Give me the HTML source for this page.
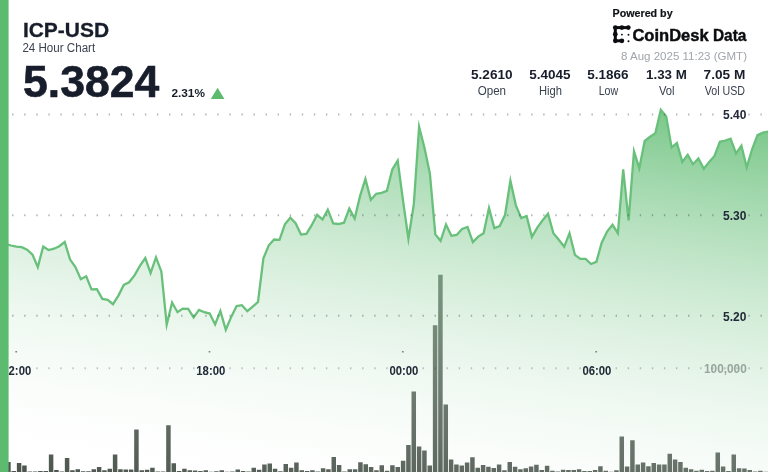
<!DOCTYPE html>
<html><head><meta charset="utf-8">
<style>
html,body{margin:0;padding:0;background:#fff;}
body{width:768px;height:472px;overflow:hidden;font-family:"Liberation Sans",sans-serif;}
svg{display:block;will-change:transform;}
text{font-family:"Liberation Sans",sans-serif;}
</style></head><body>
<svg width="768" height="472" viewBox="0 0 768 472">
<defs>
<linearGradient id="ag" gradientUnits="userSpaceOnUse" x1="0.0" y1="472.0" x2="65.9" y2="8.2">
<stop offset="0" stop-color="#ffffff" stop-opacity="0"/><stop offset="1" stop-color="#5dbb70" stop-opacity="0.88"/>
</linearGradient>
</defs>
<rect width="768" height="472" fill="#fff"/>
<!-- volume bars -->
<path d="M0.85,472v-3.0h4.5v3.0zM6.18,472v-9.9h4.5v9.9zM11.52,472v-1.0h4.5v1.0zM16.85,472v-9.1h4.5v9.1zM22.18,472v-6.6h4.5v6.6zM27.52,472v-0.5h4.5v0.5zM32.85,472v-0.5h4.5v0.5zM38.18,472v-1.0h4.5v1.0zM43.52,472v-1.0h4.5v1.0zM48.85,472v-17.4h4.5v17.4zM54.18,472v-2.0h4.5v2.0zM59.52,472v-0.4h4.5v0.4zM64.85,472v-14.1h4.5v14.1zM70.18,472v-1.7h4.5v1.7zM75.52,472v-2.8h4.5v2.8zM80.85,472v-0.7h4.5v0.7zM86.18,472v-0.7h4.5v0.7zM91.52,472v-2.8h4.5v2.8zM96.85,472v-4.9h4.5v4.9zM102.18,472v-1.7h4.5v1.7zM107.52,472v-3.3h4.5v3.3zM112.85,472v-17.4h4.5v17.4zM118.18,472v-2.8h4.5v2.8zM123.52,472v-2.5h4.5v2.5zM128.85,472v-2.5h4.5v2.5zM134.18,472v-42.5h4.5v42.5zM139.52,472v-1.7h4.5v1.7zM144.85,472v-2.3h4.5v2.3zM150.18,472v-4.2h4.5v4.2zM155.52,472v-0.6h4.5v0.6zM160.85,472v-0.6h4.5v0.6zM166.18,472v-46.7h4.5v46.7zM171.52,472v-8.7h4.5v8.7zM176.85,472v-1.0h4.5v1.0zM182.18,472v-3.3h4.5v3.3zM187.52,472v-1.7h4.5v1.7zM192.85,472v-1.5h4.5v1.5zM198.18,472v-1.0h4.5v1.0zM203.52,472v-1.7h4.5v1.7zM208.85,472v-0.3h4.5v0.3zM214.18,472v-0.8h4.5v0.8zM219.52,472v-1.8h4.5v1.8zM224.85,472v-0.3h4.5v0.3zM230.18,472v-0.5h4.5v0.5zM235.52,472v-2.5h4.5v2.5zM240.85,472v-1.0h4.5v1.0zM246.18,472v-0.6h4.5v0.6zM251.52,472v-4.2h4.5v4.2zM256.85,472v-2.3h4.5v2.3zM262.18,472v-7.5h4.5v7.5zM267.52,472v-8.5h4.5v8.5zM272.85,472v-3.2h4.5v3.2zM278.18,472v-0.8h4.5v0.8zM283.51,472v-7.9h4.5v7.9zM288.85,472v-4.2h4.5v4.2zM294.18,472v-9.5h4.5v9.5zM299.51,472v-1.7h4.5v1.7zM304.85,472v-1.0h4.5v1.0zM310.18,472v-1.7h4.5v1.7zM315.51,472v-0.5h4.5v0.5zM320.85,472v-3.8h4.5v3.8zM326.18,472v-2.8h4.5v2.8zM331.51,472v-15.1h4.5v15.1zM336.85,472v-7.0h4.5v7.0zM342.18,472v-0.6h4.5v0.6zM347.51,472v-2.7h4.5v2.7zM352.85,472v-2.7h4.5v2.7zM358.18,472v-9.7h4.5v9.7zM363.51,472v-7.7h4.5v7.7zM368.85,472v-5.0h4.5v5.0zM374.18,472v-1.7h4.5v1.7zM379.51,472v-6.7h4.5v6.7zM384.85,472v-1.2h4.5v1.2zM390.18,472v-6.7h4.5v6.7zM395.51,472v-5.0h4.5v5.0zM400.85,472v-11.2h4.5v11.2zM406.18,472v-27.1h4.5v27.1zM411.51,472v-80.6h4.5v80.6zM416.85,472v-25.4h4.5v25.4zM422.18,472v-21.6h4.5v21.6zM427.51,472v-6.5h4.5v6.5zM432.85,472v-146.8h4.5v146.8zM438.18,472v-197.3h4.5v197.3zM443.51,472v-67.6h4.5v67.6zM448.85,472v-12.5h4.5v12.5zM454.18,472v-7.4h4.5v7.4zM459.51,472v-6.5h4.5v6.5zM464.85,472v-9.5h4.5v9.5zM470.18,472v-14.7h4.5v14.7zM475.51,472v-4.2h4.5v4.2zM480.85,472v-6.9h4.5v6.9zM486.18,472v-5.2h4.5v5.2zM491.51,472v-4.0h4.5v4.0zM496.85,472v-7.4h4.5v7.4zM502.18,472v-1.8h4.5v1.8zM507.51,472v-10.0h4.5v10.0zM512.85,472v-5.2h4.5v5.2zM518.18,472v-2.8h4.5v2.8zM523.51,472v-3.8h4.5v3.8zM528.85,472v-5.4h4.5v5.4zM534.18,472v-7.2h4.5v7.2zM539.51,472v-2.0h4.5v2.0zM544.85,472v-6.2h4.5v6.2zM550.18,472v-1.2h4.5v1.2zM555.51,472v-0.5h4.5v0.5zM560.85,472v-2.3h4.5v2.3zM566.18,472v-2.0h4.5v2.0zM571.51,472v-2.0h4.5v2.0zM576.85,472v-2.8h4.5v2.8zM582.18,472v-1.0h4.5v1.0zM587.51,472v-1.0h4.5v1.0zM592.85,472v-2.0h4.5v2.0zM598.18,472v-5.7h4.5v5.7zM603.51,472v-1.2h4.5v1.2zM608.85,472v-0.3h4.5v0.3zM614.18,472v-1.7h4.5v1.7zM619.51,472v-35.6h4.5v35.6zM624.85,472v-5.4h4.5v5.4zM630.18,472v-31.8h4.5v31.8zM635.51,472v-7.4h4.5v7.4zM640.85,472v-9.5h4.5v9.5zM646.18,472v-5.7h4.5v5.7zM651.51,472v-9.0h4.5v9.0zM656.85,472v-7.4h4.5v7.4zM662.18,472v-7.4h4.5v7.4zM667.51,472v-18.2h4.5v18.2zM672.85,472v-12.5h4.5v12.5zM678.18,472v-10.0h4.5v10.0zM683.51,472v-4.3h4.5v4.3zM688.85,472v-2.8h4.5v2.8zM694.18,472v-1.2h4.5v1.2zM699.51,472v-2.2h4.5v2.2zM704.85,472v-1.0h4.5v1.0zM710.18,472v-1.3h4.5v1.3zM715.51,472v-19.6h4.5v19.6zM720.85,472v-5.4h4.5v5.4zM726.18,472v-1.0h4.5v1.0zM731.51,472v-17.4h4.5v17.4zM736.85,472v-3.8h4.5v3.8zM742.18,472v-3.5h4.5v3.5zM747.51,472v-2.0h4.5v2.0zM752.85,472v-0.5h4.5v0.5zM758.18,472v-1.2h4.5v1.2zM763.51,472v-0.3h4.5v0.3z" fill="#4b544d"/>
<!-- area -->
<path d="M5.6,244.0 L11.0,245.5 L16.4,246.7 L21.7,247.1 L27.1,249.6 L32.5,254.6 L37.8,267.2 L43.2,246.5 L48.6,250.0 L54.0,248.7 L59.3,246.2 L64.7,242.0 L70.1,259.6 L75.4,267.1 L80.8,279.2 L86.2,276.3 L91.5,289.4 L96.9,289.1 L102.3,298.9 L107.7,299.8 L113.0,304.2 L118.4,295.6 L123.8,284.9 L129.1,282.3 L134.5,275.4 L139.9,265.9 L145.3,258.1 L150.6,273.1 L156.0,257.4 L161.4,271.7 L166.7,324.6 L172.1,302.5 L177.5,312.2 L182.8,308.6 L188.2,308.9 L193.6,317.4 L199.0,309.9 L204.3,312.2 L209.7,313.6 L215.1,324.5 L220.4,311.1 L225.8,329.8 L231.2,316.9 L236.6,306.0 L241.9,305.2 L247.3,311.2 L252.7,306.6 L258.0,301.9 L263.4,258.4 L268.8,245.3 L274.1,239.5 L279.5,239.9 L284.9,224.3 L290.3,217.7 L295.6,223.2 L301.0,234.6 L306.4,233.9 L311.7,225.2 L317.1,214.9 L322.5,219.5 L327.8,209.7 L333.2,223.5 L338.6,224.0 L344.0,222.7 L349.3,208.6 L354.7,218.6 L360.1,195.9 L365.4,179.0 L370.8,199.9 L376.2,193.8 L381.6,192.9 L386.9,190.9 L392.3,169.4 L397.7,160.6 L403.0,200.5 L408.4,238.7 L413.8,204.5 L419.1,126.7 L424.5,148.0 L429.9,173.6 L435.3,234.4 L440.6,240.8 L446.0,224.5 L451.4,235.8 L456.7,234.9 L462.1,228.9 L467.5,227.0 L472.9,242.1 L478.2,236.6 L483.6,233.2 L489.0,207.9 L494.3,228.1 L499.7,226.0 L505.1,214.8 L510.4,180.7 L515.8,205.1 L521.2,218.1 L526.6,216.0 L531.9,236.9 L537.3,227.7 L542.7,220.2 L548.0,213.7 L553.4,233.3 L558.8,239.8 L564.2,246.8 L569.5,233.2 L574.9,254.9 L580.3,258.9 L585.6,258.9 L591.0,264.0 L596.4,261.9 L601.7,242.7 L607.1,231.5 L612.5,224.8 L617.9,233.2 L623.2,169.4 L628.6,220.5 L634.0,151.3 L639.3,168.3 L644.7,141.0 L650.1,136.8 L655.4,133.1 L660.8,109.8 L666.2,116.4 L671.6,147.4 L676.9,143.1 L682.3,161.9 L687.7,154.8 L693.0,164.2 L698.4,158.5 L703.8,168.8 L709.2,161.9 L714.5,156.0 L719.9,141.8 L725.3,140.5 L730.6,138.7 L736.0,153.5 L741.4,145.8 L746.7,167.3 L752.1,149.4 L757.5,135.1 L762.9,132.6 L768.5,131.5 L768.5,472 L5.6,472 Z" fill="url(#ag)"/>
<path d="M5.6,244.0 L11.0,245.5 L16.4,246.7 L21.7,247.1 L27.1,249.6 L32.5,254.6 L37.8,267.2 L43.2,246.5 L48.6,250.0 L54.0,248.7 L59.3,246.2 L64.7,242.0 L70.1,259.6 L75.4,267.1 L80.8,279.2 L86.2,276.3 L91.5,289.4 L96.9,289.1 L102.3,298.9 L107.7,299.8 L113.0,304.2 L118.4,295.6 L123.8,284.9 L129.1,282.3 L134.5,275.4 L139.9,265.9 L145.3,258.1 L150.6,273.1 L156.0,257.4 L161.4,271.7 L166.7,324.6 L172.1,302.5 L177.5,312.2 L182.8,308.6 L188.2,308.9 L193.6,317.4 L199.0,309.9 L204.3,312.2 L209.7,313.6 L215.1,324.5 L220.4,311.1 L225.8,329.8 L231.2,316.9 L236.6,306.0 L241.9,305.2 L247.3,311.2 L252.7,306.6 L258.0,301.9 L263.4,258.4 L268.8,245.3 L274.1,239.5 L279.5,239.9 L284.9,224.3 L290.3,217.7 L295.6,223.2 L301.0,234.6 L306.4,233.9 L311.7,225.2 L317.1,214.9 L322.5,219.5 L327.8,209.7 L333.2,223.5 L338.6,224.0 L344.0,222.7 L349.3,208.6 L354.7,218.6 L360.1,195.9 L365.4,179.0 L370.8,199.9 L376.2,193.8 L381.6,192.9 L386.9,190.9 L392.3,169.4 L397.7,160.6 L403.0,200.5 L408.4,238.7 L413.8,204.5 L419.1,126.7 L424.5,148.0 L429.9,173.6 L435.3,234.4 L440.6,240.8 L446.0,224.5 L451.4,235.8 L456.7,234.9 L462.1,228.9 L467.5,227.0 L472.9,242.1 L478.2,236.6 L483.6,233.2 L489.0,207.9 L494.3,228.1 L499.7,226.0 L505.1,214.8 L510.4,180.7 L515.8,205.1 L521.2,218.1 L526.6,216.0 L531.9,236.9 L537.3,227.7 L542.7,220.2 L548.0,213.7 L553.4,233.3 L558.8,239.8 L564.2,246.8 L569.5,233.2 L574.9,254.9 L580.3,258.9 L585.6,258.9 L591.0,264.0 L596.4,261.9 L601.7,242.7 L607.1,231.5 L612.5,224.8 L617.9,233.2 L623.2,169.4 L628.6,220.5 L634.0,151.3 L639.3,168.3 L644.7,141.0 L650.1,136.8 L655.4,133.1 L660.8,109.8 L666.2,116.4 L671.6,147.4 L676.9,143.1 L682.3,161.9 L687.7,154.8 L693.0,164.2 L698.4,158.5 L703.8,168.8 L709.2,161.9 L714.5,156.0 L719.9,141.8 L725.3,140.5 L730.6,138.7 L736.0,153.5 L741.4,145.8 L746.7,167.3 L752.1,149.4 L757.5,135.1 L762.9,132.6 L768.5,131.5" fill="none" stroke="#68c07b" stroke-width="2.3" stroke-linejoin="miter" stroke-miterlimit="10"/>
<!-- grid -->
<line x1="0" y1="114.4" x2="768" y2="114.4" stroke="rgba(50,62,72,0.38)" stroke-width="2" stroke-dasharray="1.4 10.67" stroke-dashoffset="-0.03"/>
<line x1="0" y1="215.2" x2="768" y2="215.2" stroke="rgba(50,62,72,0.38)" stroke-width="2" stroke-dasharray="1.4 10.67" stroke-dashoffset="-0.03"/>
<line x1="0" y1="315.8" x2="768" y2="315.8" stroke="rgba(50,62,72,0.38)" stroke-width="2" stroke-dasharray="1.4 10.67" stroke-dashoffset="-0.03"/>
<line x1="0" y1="368.2" x2="768" y2="368.2" stroke="rgba(50,62,72,0.30)" stroke-width="2" stroke-dasharray="1.4 10.67" stroke-dashoffset="-0.03"/>
<!-- tick dots -->
<g fill="#7d838a"><rect x="15.35" y="351.0" width="1.7" height="1.5"/><rect x="208.65" y="351.0" width="1.7" height="1.5"/><rect x="401.95" y="351.0" width="1.7" height="1.5"/><rect x="595.35" y="351.0" width="1.7" height="1.5"/></g>
<!-- left bar -->
<rect x="0" y="0" width="8.6" height="472" fill="#5dbb70"/>
<!-- axis labels -->
<g font-weight="bold" font-size="12.6" fill="#222a38">
<text x="723.0" y="119.2" textLength="23.4" lengthAdjust="spacingAndGlyphs">5.40</text>
<text x="723.0" y="220.0" textLength="23.4" lengthAdjust="spacingAndGlyphs">5.30</text>
<text x="723.0" y="320.6" textLength="23.4" lengthAdjust="spacingAndGlyphs">5.20</text>
<text x="196.3" y="374.7" textLength="29" lengthAdjust="spacingAndGlyphs">18:00</text>
<text x="389.4" y="374.7" textLength="29" lengthAdjust="spacingAndGlyphs">00:00</text>
<text x="582.4" y="374.7" textLength="29" lengthAdjust="spacingAndGlyphs">06:00</text>
<text x="8.6" y="374.7" textLength="22.6" lengthAdjust="spacingAndGlyphs">2:00</text>
</g>
<text x="704.0" y="373.0" font-weight="bold" font-size="12.4" fill="#98a59c" textLength="42.8" lengthAdjust="spacingAndGlyphs">100,000</text>
<!-- header left -->
<text x="22.9" y="37.3" font-weight="bold" font-size="21" fill="#171d2b" stroke="#171d2b" stroke-width="0.3" textLength="86.2" lengthAdjust="spacingAndGlyphs">ICP-USD</text>
<text x="22.4" y="52" font-size="12" fill="#3a4250" textLength="72.8" lengthAdjust="spacingAndGlyphs">24 Hour Chart</text>
<text x="23.1" y="96.7" font-weight="bold" font-size="43.6" fill="#171d2b" stroke="#171d2b" stroke-width="0.6" textLength="136.2" lengthAdjust="spacingAndGlyphs">5.3824</text>
<text x="171.4" y="96.6" font-weight="bold" font-size="11.5" fill="#171d2b" textLength="33.5" lengthAdjust="spacingAndGlyphs">2.31%</text>
<path d="M217.6,87.7 L224.4,98.9 L210.8,98.9 Z" fill="#5dbb70"/>
<!-- header right -->
<text x="612.6" y="16.5" font-weight="bold" font-size="11" fill="#101216" stroke="#101216" stroke-width="0.2" textLength="60" lengthAdjust="spacingAndGlyphs">Powered by</text>
<g font-weight="bold" font-size="17.2" fill="#0c0d10" stroke="#0c0d10" stroke-width="0.45"><text x="632.4" y="41.2" textLength="76.3" lengthAdjust="spacingAndGlyphs">CoinDesk</text><text x="713.0" y="41.2" textLength="33.4" lengthAdjust="spacingAndGlyphs">Data</text></g>
<text x="621" y="60" font-size="11.5" fill="#a0a5aa" textLength="126" lengthAdjust="spacingAndGlyphs">8 Aug 2025 11:23 (GMT)</text>
<g font-weight="bold" font-size="12.8" fill="#171d2b" text-anchor="middle">
<text x="491.8" y="79.2" textLength="41.5" lengthAdjust="spacingAndGlyphs">5.2610</text><text x="549.8" y="79.2" textLength="41.3" lengthAdjust="spacingAndGlyphs">5.4045</text><text x="607.8" y="79.2" textLength="41.3" lengthAdjust="spacingAndGlyphs">5.1866</text><text x="666.4" y="79.2" textLength="40.8" lengthAdjust="spacingAndGlyphs">1.33 M</text><text x="724.4" y="79.2" textLength="41.7" lengthAdjust="spacingAndGlyphs">7.05 M</text>
</g>
<g font-size="12.3" fill="#3a4250" text-anchor="middle">
<text x="491.9" y="95.3" textLength="28.4" lengthAdjust="spacingAndGlyphs">Open</text><text x="550.5" y="95.3" textLength="23" lengthAdjust="spacingAndGlyphs">High</text><text x="608.4" y="95.3" textLength="19.5" lengthAdjust="spacingAndGlyphs">Low</text><text x="666.7" y="95.3" textLength="15.6" lengthAdjust="spacingAndGlyphs">Vol</text><text x="724.9" y="95.3" textLength="40.3" lengthAdjust="spacingAndGlyphs">Vol USD</text>
</g>
<!-- logo icon -->
<g fill="#0c0d10">
<circle cx="615.3" cy="27.6" r="2.35"/><circle cx="621.9" cy="27.6" r="2.35"/><circle cx="628.3" cy="27.6" r="2.35"/>
<circle cx="615.3" cy="34.2" r="2.35"/><circle cx="615.3" cy="40.8" r="2.35"/><circle cx="621.9" cy="40.8" r="2.35"/>
<rect x="615.3" y="26.1" width="13" height="3"/><rect x="613.8" y="27.6" width="3" height="13.2"/><rect x="615.3" y="39.3" width="6.6" height="3"/>
<circle cx="621.9" cy="34.6" r="0.95"/><circle cx="628.5" cy="34.7" r="0.95"/><circle cx="628.5" cy="41.3" r="1.0"/>
</g>
</svg>
</body></html>
